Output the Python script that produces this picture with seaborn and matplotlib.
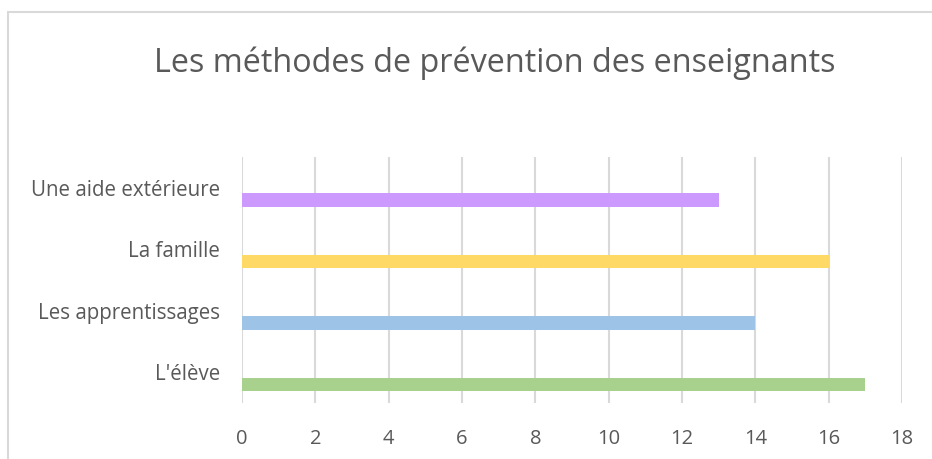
import matplotlib
matplotlib.use("Agg")
import matplotlib.pyplot as plt
import seaborn as sns
import pandas as pd
from matplotlib.lines import Line2D

categories = ["Une aide extérieure", "La famille", "Les apprentissages", "L'élève"]
values = [13, 16, 14, 17]
bar_colors = ["#CC99FF", "#FFD966", "#9DC3E6", "#A9D18E"]
series_levels = ["vide", "Série"]
x_ticks = [0, 2, 4, 6, 8, 10, 12, 14, 16, 18]
title = "Les méthodes de prévention des enseignants"

sns.set_theme(style="white")
plt.rcParams["font.family"] = ["Open Sans", "DejaVu Sans"]

df = pd.DataFrame({
    "categorie": categories,
    "valeur": values,
    "serie": ["Série"] * len(categories),
})

fig = plt.figure(figsize=(9.32, 4.59), dpi=100)
ax = fig.add_axes([242 / 932, 1 - 403 / 459, (902 - 242) / 932, (403 - 157) / 459])

sns.barplot(data=df, y="categorie", x="valeur", hue="serie", hue_order=series_levels,
            order=categories, orient="h", dodge=True, width=0.8, gap=0.46,
            legend=False, ax=ax, saturation=1)

for p in ax.patches:
    if p.get_width() > 0:
        idx = int(round(p.get_y() + p.get_height() / 2 - 0.2))
        p.set_facecolor(bar_colors[idx])
        p.set_edgecolor("none")

text_color = "#595959"
ax.set_xlim(0, 18)
ax.set_xticks(x_ticks)
ax.set_xticklabels([str(t) for t in x_ticks], color=text_color, fontsize=14.5)
ax.tick_params(axis="y", labelsize=14.8, labelcolor=text_color, length=0, pad=16)
ax.tick_params(axis="x", length=0, pad=19)
ax.grid(axis="x", color="#D9D9D9", linewidth=1.5)
ax.set_axisbelow(True)
for s in ax.spines.values():
    s.set_visible(False)
ax.set_xlabel("")
ax.set_ylabel("")

fig.text(495 / 932, 1 - 63 / 459, title, ha="center", va="center",
         fontsize=23.3, color=text_color)

# chart-area border (top and left visible)
fig.add_artist(Line2D([8 / 932, 1.0], [1 - 12 / 459, 1 - 12 / 459],
                      transform=fig.transFigure, color="#D9D9D9", linewidth=1.5))
fig.add_artist(Line2D([8 / 932, 8 / 932], [0.0, 1 - 12 / 459],
                      transform=fig.transFigure, color="#D9D9D9", linewidth=1.5))

fig.savefig("out.png", dpi=100, facecolor="white")
